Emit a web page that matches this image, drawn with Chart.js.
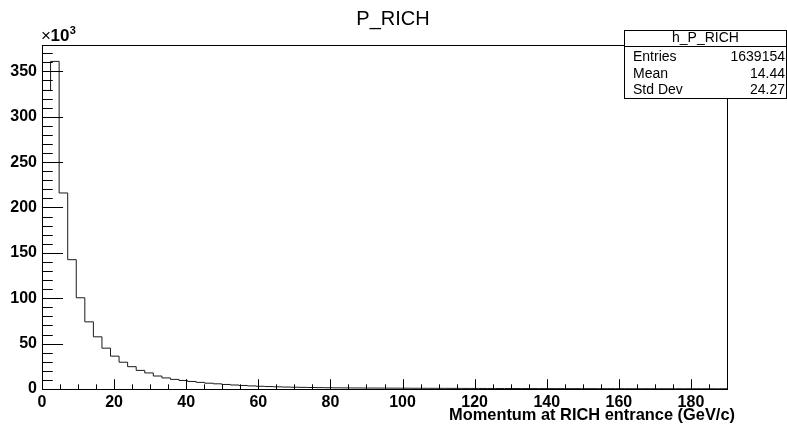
<!DOCTYPE html>
<html>
<head>
<meta charset="utf-8">
<title>P_RICH</title>
<script src="https://cdn.jsdelivr.net/npm/chart.js@4/dist/chart.umd.min.js"></script>
<style>
  html, body { margin: 0; padding: 0; background: #fff; }
  #wrap { width: 787px; height: 430px; }
</style>
</head>
<body>
<div id="wrap"><canvas id="c" width="787" height="430"></canvas></div>
<script>
// Histogram h_P_RICH: momentum at RICH entrance, 80 bins from 0 to 190 GeV/c
const histName = 'h_P_RICH';
const histTitle = 'P_RICH';
const axisTitleX = 'Momentum at RICH entrance (GeV/c)';
const binRange = [0, 190];
const binCounts = [
  329000, 361000, 216000, 142500, 100500, 74000, 57500, 45000,
  36200, 29500, 24600, 20500, 17700, 14300, 12200, 10600,
  9400, 8300, 7300, 6400, 5700, 5000, 4400, 3900,
  3400, 3000, 2700, 2400, 2150, 1950, 1800, 1650,
  1500, 1400, 1300, 1200, 1150, 1100, 1050, 1000,
  960, 920, 880, 840, 800, 770, 740, 710,
  680, 650, 620, 600, 580, 560, 540, 520,
  500, 480, 470, 455, 440, 425, 410, 400,
  390, 380, 370, 360, 350, 340, 330, 320,
  310, 300, 295, 290, 285, 280, 275, 270
];
const xMajorTicks = [0, 20, 40, 60, 80, 100, 120, 140, 160, 180];
const yMajorTicks = [0, 50000, 100000, 150000, 200000, 250000, 300000, 350000];
const statsLabels = ['Entries', 'Mean', 'Std Dev'];
const statsValues = ['1639154', '14.44', '24.27'];

const FONT = "'Liberation Sans', Arial, Helvetica, sans-serif";
const nBins = binCounts.length;
const binWidth = (binRange[1] - binRange[0]) / nBins;

// step outline: one point at each lower bin edge, closing point at the upper range edge
const stepPoints = binCounts.map((v, i) => ({ x: binRange[0] + i * binWidth, y: v }));
stepPoints.push({ x: binRange[1], y: binCounts[nBins - 1] });

const yMax = 1.05 * Math.max(...binCounts);

const rootFrame = {
  id: 'rootFrame',
  afterDraw(chart) {
    const { ctx, chartArea: a, scales: { x, y } } = chart;
    const L = Math.round(a.left) + 0.5, R = Math.round(a.right) + 0.5;
    const T = Math.round(a.top) + 0.5, B = Math.round(a.bottom) + 0.5;
    const w = a.right - a.left, h = a.bottom - a.top;
    ctx.save();
    ctx.strokeStyle = '#000';
    ctx.lineWidth = 1;
    ctx.strokeRect(L, T, R - L, B - T);

    // inward tick marks
    ctx.beginPath();
    const xMaj = 0.03 * h, yMaj = 0.03 * w;
    for (let v = binRange[0]; v <= binRange[1] + 1e-9; v += 5) {
      const px = Math.round(x.getPixelForValue(v)) + 0.5;
      const len = xMajorTicks.includes(v) ? xMaj : xMaj / 2;
      ctx.moveTo(px, B); ctx.lineTo(px, B - len);
    }
    for (let v = 0; v <= yMax; v += 10000) {
      const py = Math.round(y.getPixelForValue(v)) + 0.5;
      const len = yMajorTicks.includes(v) ? yMaj : yMaj / 2;
      ctx.moveTo(L, py); ctx.lineTo(L + len, py);
    }
    ctx.stroke();

    // title
    ctx.fillStyle = '#000';
    ctx.font = '20px ' + FONT;
    ctx.textAlign = 'center';
    ctx.textBaseline = 'alphabetic';
    ctx.fillText(histTitle, 393, 25);

    // axis exponent
    ctx.textAlign = 'left';
    ctx.font = '17px ' + FONT;
    ctx.fillText('\u00d7', 41, 41);
    const wt = ctx.measureText('\u00d7').width;
    ctx.font = 'bold 17px ' + FONT;
    ctx.fillText('10', 41 + wt - 0.5, 41);
    const w10 = ctx.measureText('10').width;
    ctx.font = 'bold 11px ' + FONT;
    ctx.fillText('3', 41 + wt + w10, 34);

    // x axis title
    ctx.font = 'bold 16.4px ' + FONT;
    ctx.textAlign = 'right';
    ctx.fillText(axisTitleX, 735, 420);

    // statistics box
    const bx0 = 624.5, bx1 = 786.5, by0 = 30.5, by1 = 98.5, div = 46.5;
    ctx.fillStyle = '#fff';
    ctx.fillRect(bx0, by0, bx1 - bx0, by1 - by0);
    ctx.strokeRect(bx0, by0, bx1 - bx0, by1 - by0);
    ctx.beginPath(); ctx.moveTo(bx0, div); ctx.lineTo(bx1, div); ctx.stroke();
    ctx.fillStyle = '#000';
    ctx.font = '14px ' + FONT;
    ctx.textBaseline = 'middle';
    ctx.textAlign = 'center';
    ctx.fillText(histName, (bx0 + bx1) / 2, 38.5);
    const rowY = [57, 74, 90.5];
    statsLabels.forEach((lab, i) => {
      ctx.textAlign = 'left';
      ctx.fillText(lab, 633, rowY[i]);
      ctx.textAlign = 'right';
      ctx.fillText(statsValues[i], 785, rowY[i]);
    });
    ctx.restore();
  }
};

new Chart(document.getElementById('c'), {
  type: 'line',
  data: {
    datasets: [{
      data: stepPoints,
      stepped: 'before',
      borderColor: '#1a1a1a',
      borderWidth: 1,
      pointRadius: 0,
      fill: false,
      tension: 0
    }]
  },
  options: {
    responsive: false,
    devicePixelRatio: 1,
    animation: false,
    events: [],
    layout: { padding: { top: 45, right: 60, left: 0, bottom: 0 } },
    plugins: { legend: { display: false }, tooltip: { enabled: false }, title: { display: false } },
    scales: {
      x: {
        type: 'linear',
        min: binRange[0],
        max: binRange[1],
        grid: { display: false, drawTicks: false },
        border: { display: false },
        afterBuildTicks: s => { s.ticks = xMajorTicks.map(v => ({ value: v })); },
        afterFit: s => { s.height = 41; },
        ticks: {
          padding: 4,
          maxRotation: 0,
          autoSkip: false,
          color: '#000',
          font: { family: FONT, size: 16, weight: 'bold' },
          callback: v => String(v)
        }
      },
      y: {
        type: 'linear',
        min: 0,
        max: yMax,
        grid: { display: false, drawTicks: false },
        border: { display: false },
        afterBuildTicks: s => { s.ticks = yMajorTicks.map(v => ({ value: v })); },
        afterFit: s => { s.width = 42; },
        ticks: {
          padding: 5,
          autoSkip: false,
          color: '#000',
          font: { family: FONT, size: 16, weight: 'bold' },
          callback: v => String(v / 1000)
        }
      }
    }
  },
  plugins: [rootFrame]
});
</script>
</body>
</html>
